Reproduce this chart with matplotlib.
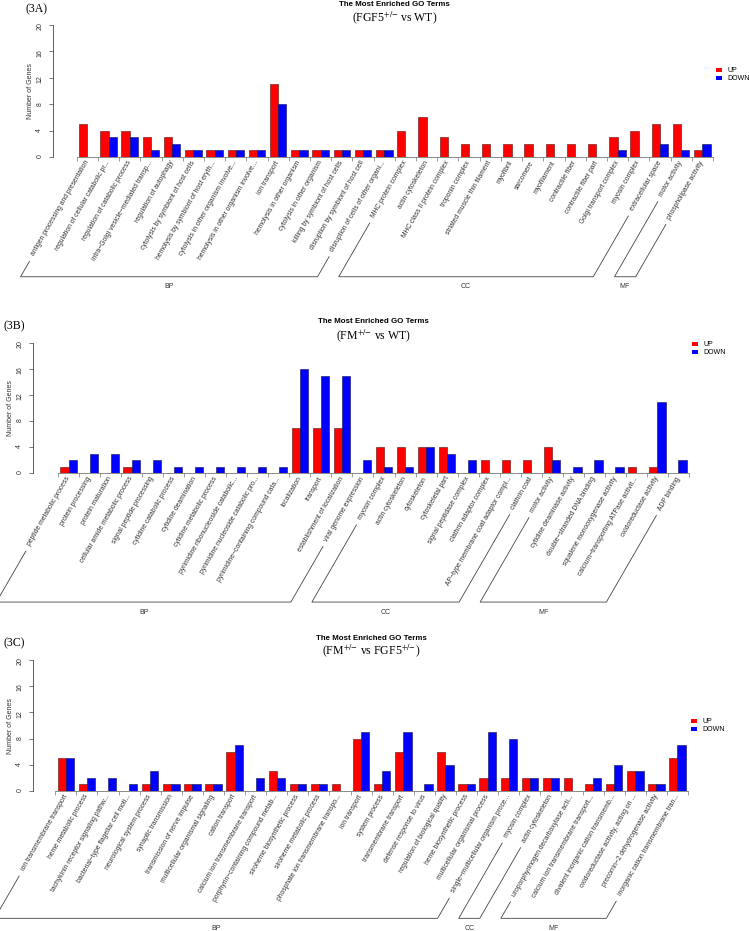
import matplotlib
matplotlib.use('Agg')
import matplotlib.pyplot as plt
from matplotlib.lines import Line2D
from matplotlib.patches import Patch
import numpy as np

plt.rcParams['font.family'] = 'Liberation Sans'
plt.rcParams['mathtext.fontset'] = 'stix'

W, H = 749, 931

# ---------------- (3A) FGF5+/- vs WT ----------------
terms_a = [
    'antigen processing and presentation',
    'regulation of cellular catabolic pr...',
    'regulation of catabolic process',
    'intra\u2212Golgi vesicle\u2212mediated transp...',
    'regulation of autophagy',
    'cytolysis by symbiont of host cells',
    'hemolysis by symbiont of host eryth...',
    'cytolysis in other organism involve...',
    'hemolysis in other organism involve...',
    'ion transport',
    'hemolysis in other organism',
    'cytolysis in other organism',
    'killing by symbiont of host cells',
    'disruption by symbiont of host cell',
    'disruption of cells of other organi...',
    'MHC protein complex',
    'actin cytoskeleton',
    'MHC class II protein complex',
    'troponin complex',
    'striated muscle thin filament',
    'myofibril',
    'sarcomere',
    'myofilament',
    'contractile fiber',
    'contractile fiber part',
    'Golgi transport complex',
    'myosin complex',
    'extracellular space',
    'motor activity',
    'phospholipase activity',
]
up_a = [5, 4, 4, 3, 3, 1, 1, 1, 1, 11, 1, 1, 1, 1, 1,
        4, 6, 3, 2, 2, 2, 2, 2, 2, 2, 3, 4, 5, 5, 1]
down_a = [0, 3, 3, 1, 2, 1, 1, 1, 1, 8, 1, 1, 1, 1, 1,
          0, 0, 0, 0, 0, 0, 0, 0, 0, 0, 1, 0, 2, 1, 2]
groups_a = [('BP', 15), ('CC', 13), ('MF', 2)]

# ---------------- (3B) FM+/- vs WT ----------------
terms_b = [
    'peptide metabolic process',
    'protein processing',
    'protein maturation',
    'cellular amide metabolic process',
    'signal peptide processing',
    'cytidine catabolic process',
    'cytidine deamination',
    'cytidine metabolic process',
    'pyrimidine ribonucleoside catabolic...',
    'pyrimidine nucleoside catabolic pro...',
    'pyrimidine\u2212containing compound cata...',
    'localization',
    'transport',
    'establishment of localization',
    'viral genome expression',
    'myosin complex',
    'actin cytoskeleton',
    'cytoskeleton',
    'cytoskeletal part',
    'signal peptidase complex',
    'clathrin adaptor complex',
    'AP\u2212type membrane coat adaptor compl...',
    'clathrin coat',
    'motor activity',
    'cytidine deaminase activity',
    'double\u2212stranded DNA binding',
    'squalene monooxygenase activity',
    'calcium\u2212transporting ATPase activit...',
    'oxidoreductase activity',
    'ADP binding',
]
up_b = [1, 0, 0, 1, 0, 0, 0, 0, 0, 0, 0, 7, 7, 7, 0,
        4, 4, 4, 4, 0, 2, 2, 2, 4, 0, 0, 0, 1, 1, 0]
down_b = [2, 3, 3, 2, 2, 1, 1, 1, 1, 1, 1, 16, 15, 15, 2,
          1, 1, 4, 3, 2, 0, 0, 0, 2, 1, 2, 1, 0, 11, 2]
groups_b = [('BP', 15), ('CC', 8), ('MF', 7)]

# ---------------- (3C) FM+/- vs FGF5+/- ----------------
terms_c = [
    'ion transmembrane transport',
    'heme metabolic process',
    'tachykinin receptor signaling pathw...',
    'bacterial\u2212type flagellar cell moti...',
    'neurological system process',
    'synaptic transmission',
    'transmission of nerve impulse',
    'multicellular organismal signaling',
    'cation transport',
    'calcium ion transmembrane transport',
    'porphyrin\u2212containing compound metab...',
    'siroheme biosynthetic process',
    'siroheme metabolic process',
    'phosphate ion transmembrane transpo...',
    'ion transport',
    'system process',
    'transmembrane transport',
    'defense response to virus',
    'regulation of biological quality',
    'heme biosynthetic process',
    'multicellular organismal process',
    'single\u2212multicellular organism proce...',
    'myosin complex',
    'actin cytoskeleton',
    'uroporphyrinogen decarboxylase acti...',
    'calcium ion transmembrane transport...',
    'divalent inorganic cation transmemb...',
    'oxidoreductase activity, acting on ...',
    'precorrin\u22122 dehydrogenase activity',
    'inorganic cation transmembrane tran...',
]
up_c = [5, 1, 0, 0, 1, 1, 1, 1, 6, 0, 3, 1, 1, 1, 8,
        1, 6, 0, 6, 1, 2, 2, 2, 2, 2, 1, 1, 3, 1, 5]
down_c = [5, 2, 2, 1, 3, 1, 1, 1, 7, 2, 2, 1, 1, 0, 9,
          3, 9, 1, 4, 1, 9, 8, 2, 2, 0, 2, 4, 3, 1, 7]
groups_c = [('BP', 22), ('CC', 2), ('MF', 6)]

yticks = [0, 4, 8, 12, 16, 20]


def px_rect(left, right, top, bottom):
    return [left / W, 1 - bottom / H, (right - left) / W, (bottom - top) / H]


def draw_panel(fig, rect, first_tick, terms, up, down, tag, subtitle,
               tag_xy, title_y, sub_y, leg_xy):
    left, right, top, bottom = rect
    n = len(terms)
    ax = fig.add_axes(px_rect(left, right, top, bottom))
    unit = (right - first_tick) / n
    ax.set_xlim(-0.5 - (first_tick - left) / unit, n - 0.5)
    ax.set_ylim(0, 20)

    x = np.arange(n)
    up = np.array(up)
    down = np.array(down)
    w = 0.39
    ax.bar(x[up > 0] - w / 2, up[up > 0], w, color='#ff0000',
           edgecolor='#5a1010', linewidth=0.4)
    ax.bar(x[down > 0] + w / 2, down[down > 0], w, color='#0000ff',
           edgecolor='#101050', linewidth=0.4)

    for s in ['top', 'right']:
        ax.spines[s].set_visible(False)
    ax.spines['left'].set_bounds(0, 20)
    ax.spines['bottom'].set_bounds(-0.5, n - 0.5)
    ax.spines['left'].set_color('#444444')
    ax.spines['bottom'].set_color('#777777')
    ax.spines['left'].set_linewidth(0.6)
    ax.spines['bottom'].set_linewidth(0.6)

    ax.set_yticks(yticks)
    ax.tick_params(axis='y', labelsize=5, length=3, width=0.5,
                   color='#444444', pad=4, labelrotation=90,
                   labelcolor='#333333')
    ax.set_ylabel('Number of Genes', fontsize=5, labelpad=1.5, color='#333333')

    # ticks between groups, term names under each group
    ax.set_xticks(np.arange(n + 1) - 0.5)
    ax.set_xticklabels([])
    ax.tick_params(axis='x', which='major', length=3, width=0.5, color='#777777')
    ax.set_xticks(x, terms, minor=True, rotation=60, ha='right',
                  va='center', rotation_mode='anchor', fontsize=4.9,
                  color='#333333')
    ax.tick_params(axis='x', which='minor', length=0, pad=3)

    cx = ax.transData.transform(((n - 1) / 2, 0))[0] / W
    fig.text(cx, 1 - title_y / H, 'The Most Enriched GO Terms',
             ha='center', va='center', fontsize=5.7, fontweight='bold')
    fig.text(cx, 1 - sub_y / H, subtitle, family='Liberation Serif',
             ha='center', va='center', fontsize=8.5)
    fig.text(tag_xy[0] / W, 1 - tag_xy[1] / H, tag, family='Liberation Serif',
             ha='left', va='center', fontsize=8.5)

    handles = [Patch(facecolor='#ff0000', label='UP'),
               Patch(facecolor='#0000ff', label='DOWN')]
    fig.legend(handles=handles, loc='upper left',
               bbox_to_anchor=(leg_xy[0] / W, 1 - leg_xy[1] / H),
               frameon=False, fontsize=5, handlelength=0.8,
               handleheight=0.5, handletextpad=0.85, labelspacing=0.15,
               borderpad=0, borderaxespad=0)
    return ax


def draw_brackets(fig, ax, groups):
    # slanted brackets (BP / CC / MF) following the 60 degree labels
    renderer = fig.canvas.get_renderer()
    boxes = [lb.get_window_extent(renderer)
             for lb in ax.get_xticklabels(minor=True)]
    y_base = min(b.y0 for b in boxes) - 15
    t = np.tan(np.radians(60))

    def x_on(b, y):
        cx, cy = (b.x0 + b.x1) / 2, (b.y0 + b.y1) / 2
        return cx - (cy - y) / t

    start = 0
    inv = fig.transFigure.inverted()
    for name, size in groups:
        b1, b2 = boxes[start], boxes[start + size - 1]
        y1, y2 = b1.y0 - 4, b2.y0 - 4
        pts = inv.transform([(x_on(b1, y1), y1), (x_on(b1, y_base), y_base),
                             (x_on(b2, y_base), y_base), (x_on(b2, y2), y2)])
        fig.add_artist(Line2D(pts[:, 0], pts[:, 1], transform=fig.transFigure,
                              color='#444444', linewidth=0.6))
        fig.text((pts[1, 0] + pts[2, 0]) / 2, pts[1, 1] - 10 / H, name,
                 ha='center', va='center', fontsize=5, color='#333333')
        start += size


fig = plt.figure(figsize=(W / 100, H / 100), dpi=100)

ax_a = draw_panel(fig, (53, 713, 25, 157), 76.7, terms_a, up_a, down_a,
                  '(3A)', r'(FGF5$^{{+}/{-}}$ vs WT)',
                  (26, 9.5), 4.5, 18, (716, 67))
ax_b = draw_panel(fig, (33, 689, 343, 473), 58, terms_b, up_b, down_b,
                  '(3B)', r'(FM$^{{+}/{-}}$ vs WT)',
                  (3, 326), 321.7, 335.7, (692, 341))
ax_c = draw_panel(fig, (33, 688, 660, 791), 55.3, terms_c, up_c, down_c,
                  '(3C)', r'(FM$^{{+}/{-}}$ vs FGF5$^{{+}/{-}}$)',
                  (3, 643), 639, 650.7, (691, 718))

fig.canvas.draw()
draw_brackets(fig, ax_a, groups_a)
draw_brackets(fig, ax_b, groups_b)
draw_brackets(fig, ax_c, groups_c)

fig.savefig('out.png', dpi=100)
